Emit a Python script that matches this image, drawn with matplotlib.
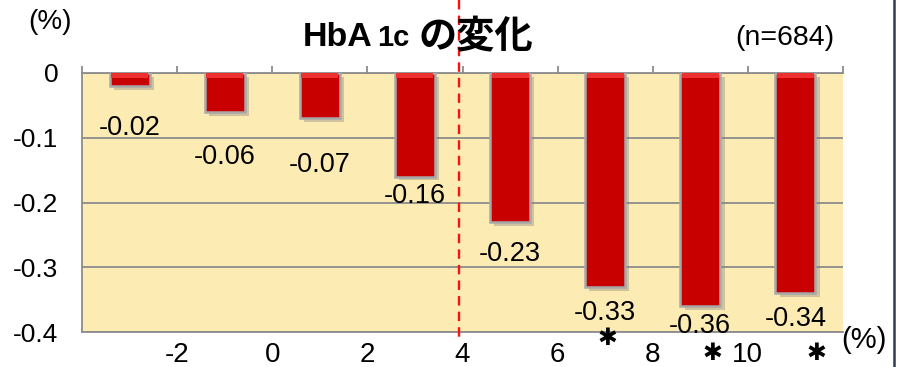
import matplotlib
matplotlib.use('Agg')
import matplotlib.pyplot as plt
from matplotlib.lines import Line2D
import numpy as np

plt.rcParams['font.family'] = ['Liberation Sans', 'Noto Sans CJK JP', 'DejaVu Sans']

# HbA1c change per baseline group
changes = [-0.02, -0.06, -0.07, -0.16, -0.23, -0.33, -0.36, -0.34]
boundary_labels = ['-2', '0', '2', '4', '6', '8', '10']
significant = [False, False, False, False, False, True, True, True]
yticks = [0, -0.1, -0.2, -0.3, -0.4]

# where the value labels sit below each bar
label_drop = [0.065, 0.07, 0.072, 0.03, 0.05, 0.04, 0.03, 0.04]

fig = plt.figure(figsize=(9.02, 3.67), dpi=100)
ax = fig.add_axes([82/902, 1 - 332/367, 761/902, 259/367])
ax.set_facecolor('#FDEBB4')

x = np.arange(len(changes))
w = 0.42

# soft drop shadow, then the bar, then a lighter bevel on top
ax.bar(x + 0.045, changes, width=w, bottom=-0.006, color='#7a7a7a', alpha=0.35, zorder=2)
ax.bar(x, changes, width=w, color='#C80000', edgecolor='#A8A8A8', linewidth=1.8, zorder=3)
ax.bar(x, [-0.008] * len(x), width=w - 0.03, color='#EE3030', zorder=4)

for xi, v, d in zip(x, changes, label_drop):
    ax.text(xi, v - d, f'{v:.2f}', ha='center', va='center', fontsize=19.5, zorder=5)

ax.set_xlim(-0.5, len(changes) - 0.5)
ax.set_ylim(-0.4, 0)
ax.set_yticks(yticks)
ax.set_yticklabels(['0', '-0.1', '-0.2', '-0.3', '-0.4'], fontsize=19)
ax.tick_params(axis='y', length=0, pad=17)
ax.yaxis.grid(True, color='#8C8C8C', linewidth=1.3)
ax.set_axisbelow(True)

# category boundary ticks on the zero line
ax.xaxis.tick_top()
ax.set_xticks(np.arange(-0.5, len(changes), 1.0))
ax.set_xticklabels([])
ax.tick_params(axis='x', direction='out', length=5, width=1.3, color='#8C8C8C')

for s in ['left', 'top', 'bottom']:
    ax.spines[s].set_color('#8C8C8C')
    ax.spines[s].set_linewidth(1.3)
ax.spines['right'].set_visible(False)

# baseline group labels sit on the boundaries
for i, lab in enumerate(boundary_labels):
    ax.text(i + 0.5, -0.4355, lab, ha='center', va='center', fontsize=20, clip_on=False)

# significance marks
star_dx = [0, 0, 0, 0, 0, 0.02, 0.13, 0.22]
star_y = [0, 0, 0, 0, 0, -0.409, -0.432, -0.432]
for i, sig in enumerate(significant):
    if sig:
        ax.text(x[i] + star_dx[i], star_y[i], '✱', ha='center', va='center', fontsize=17,
                family=['DejaVu Sans'], clip_on=False)

# cut-off marker at 4 %
ax.plot([3.46, 3.46], [0.113, -0.413], color='#FF1010', linewidth=1.7,
        linestyle=(0, (4, 2.6)), clip_on=False, zorder=6)

# title with smaller "1c"
base = 1 - 46/367
fig.text(303/902, base, 'HbA', fontsize=24.5, fontweight='bold', va='baseline')
fig.text(377/902, base, '1c', fontsize=21, fontweight='bold', va='baseline')
fig.text(419/902, base - 0.006, 'の変化', fontsize=27.5, fontweight='bold', va='baseline',
         family=['Noto Sans CJK JP'])

fig.text(785/902, 1 - 38/367, '(n=684)', fontsize=20.5, ha='center', va='center')
fig.text(50/902, 1 - 22/367, '(%)', fontsize=20, ha='center', va='center')
fig.text(864/902, 1 - 340/367, '(%)', fontsize=21, ha='center', va='center')

# slide border on the right
fig.add_artist(Line2D([893.5/902, 893.5/902], [0, 1], color='#2E3B55', linewidth=1.8))

fig.savefig('out.png', dpi=100)
